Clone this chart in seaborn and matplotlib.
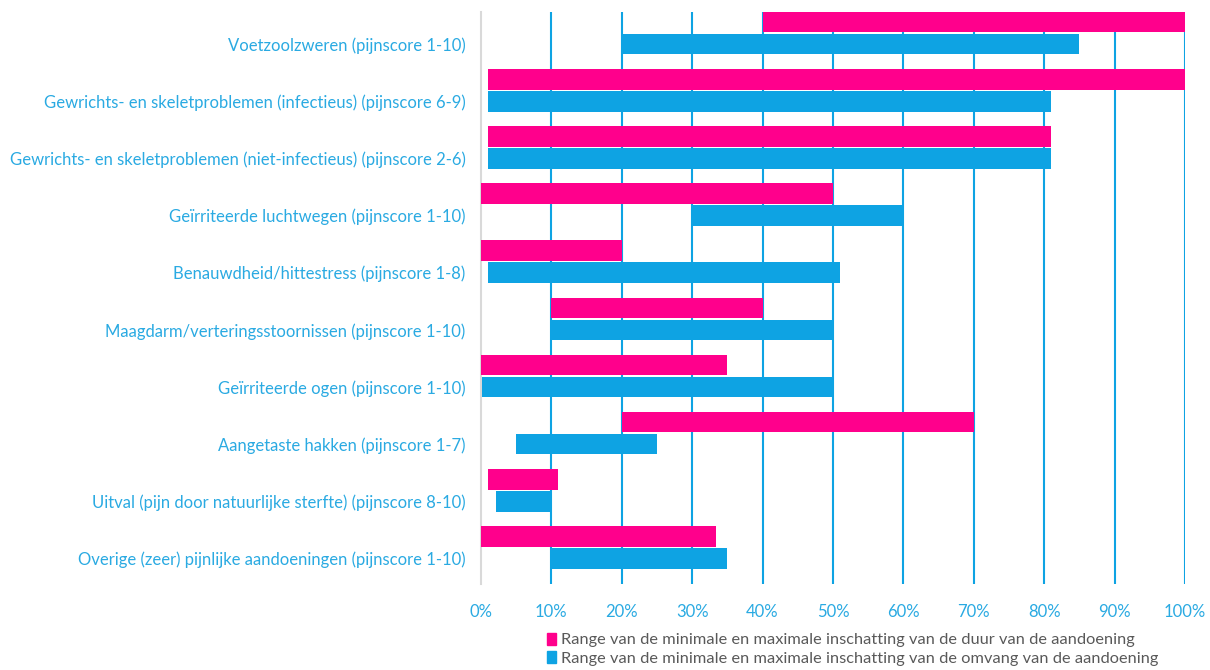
import numpy as np
import pandas as pd
import seaborn as sns
import matplotlib
matplotlib.use("Agg")
import matplotlib.pyplot as plt
from matplotlib.patches import Patch

categories = [
    "Voetzoolzweren (pijnscore 1-10)",
    "Gewrichts- en skeletproblemen (infectieus) (pijnscore 6-9)",
    "Gewrichts- en skeletproblemen (niet-infectieus) (pijnscore 2-6)",
    "Geïrriteerde luchtwegen (pijnscore 1-10)",
    "Benauwdheid/hittestress (pijnscore 1-8)",
    "Maagdarm/verteringsstoornissen (pijnscore 1-10)",
    "Geïrriteerde ogen (pijnscore 1-10)",
    "Aangetaste hakken (pijnscore 1-7)",
    "Uitval (pijn door natuurlijke sterfte) (pijnscore 8-10)",
    "Overige (zeer) pijnlijke aandoeningen (pijnscore 1-10)",
]
# duur van de aandoening (min, max) in %
duur_min = [40, 1, 1, 0, 0, 10, 0, 20, 1, 0]
duur_max = [100, 100, 81, 50, 20, 40, 35, 70, 11, 33.4]
# omvang van de aandoening (min, max) in %
omvang_min = [20, 1, 1, 30, 1, 10, 0.2, 5, 2.2, 10]
omvang_max = [85, 81, 81, 60, 51, 50, 50, 25, 10, 35]

label_duur = "Range van de minimale en maximale inschatting van de duur van de aandoening"
label_omvang = "Range van de minimale en maximale inschatting van de omvang van de aandoening"

pink = "#FF008C"
blue = "#0EA3E3"
label_blue = "#2AAAE2"

sns.set_theme(style="white")
plt.rcParams['font.family'] = ['Lato', 'DejaVu Sans']

df = pd.DataFrame({"cat": categories, "duur_min": duur_min, "duur_max": duur_max,
                   "omvang_min": omvang_min, "omvang_max": omvang_max})

fig = plt.figure(figsize=(12.1, 6.7), dpi=100)
ax = fig.add_axes([0.3975, 0.128, 0.5818, 0.854])

y = np.arange(len(df))
h = 0.36
ax.barh(y - 0.385, df["duur_max"] - df["duur_min"], left=df["duur_min"], height=h,
        color=pink, linewidth=0, zorder=3)
ax.barh(y, df["omvang_max"] - df["omvang_min"], left=df["omvang_min"], height=h,
        color=blue, linewidth=0, zorder=3)

ax.set_xlim(0, 100)
ax.set_ylim(9.45, -0.56)
ax.set_xticks(np.arange(0, 101, 10))
ax.set_xticklabels([f"{v}%" for v in range(0, 101, 10)])
ax.set_yticks(y)
ax.set_yticklabels(df["cat"])
ax.tick_params(axis="x", length=0, pad=14, labelsize=12, labelcolor=label_blue)
ax.tick_params(axis="y", length=0, pad=11, labelsize=12, labelcolor=label_blue)

for v in range(10, 101, 10):
    ax.axvline(v, color=blue, lw=1.5, zorder=1)

for s in ["top", "right", "bottom"]:
    ax.spines[s].set_visible(False)
ax.spines["left"].set_color("#d9d9d9")
ax.spines["left"].set_linewidth(1.5)

handles = [Patch(color=pink, label=label_duur), Patch(color=blue, label=label_omvang)]
fig.legend(handles=handles, loc="upper left", bbox_to_anchor=(0.445, 0.068),
           frameon=False, fontsize=11.8, labelcolor="#595959", handlelength=0.55,
           handleheight=0.75, handletextpad=0.3, labelspacing=0.25, borderpad=0)

fig.savefig("out.png", dpi=100)
